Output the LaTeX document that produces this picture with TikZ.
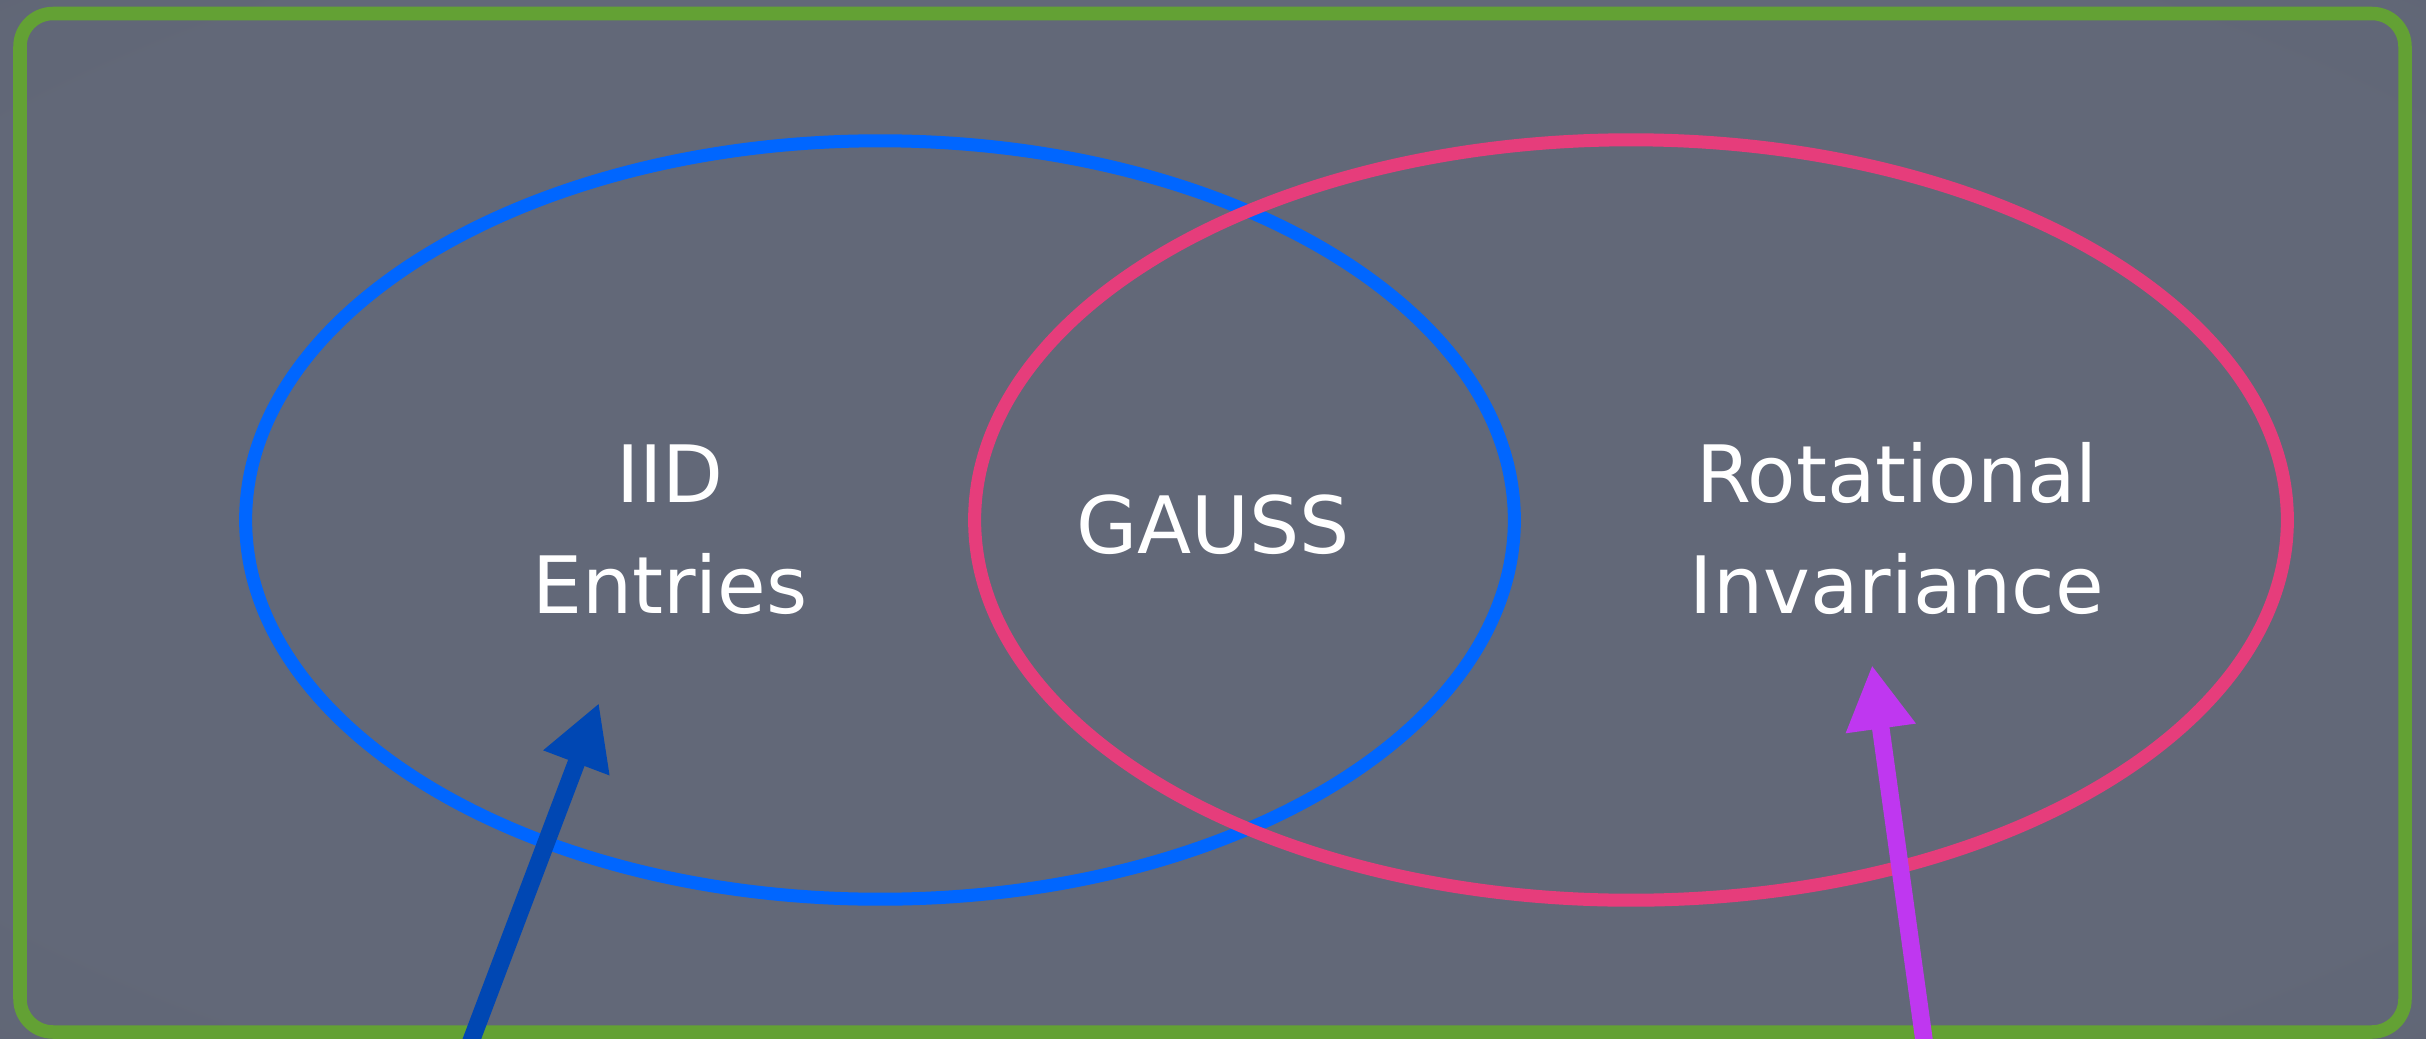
\documentclass[tikz,border=0pt]{standalone}
\usepackage{fontspec}
\setmainfont{DejaVu Sans}
\usetikzlibrary{arrows.meta,shapes.geometric}

\definecolor{boardmid}{HTML}{626878}
\definecolor{boardedge}{HTML}{4B505E}
\definecolor{framegreen}{HTML}{63A134}
\definecolor{setblue}{HTML}{0066FF}
\definecolor{setpink}{HTML}{E63D7B}
\definecolor{pointerblue}{HTML}{0047B3}
\definecolor{pointerviolet}{HTML}{BF37F0}

% soft chalkboard tone, darkening only towards the corners
\pgfdeclareradialshading{chalkboard}{\pgfpoint{0bp}{0bp}}{%
  color(0bp)=(boardmid); color(30bp)=(boardmid);
  color(50bp)=(boardmid!75!boardedge); color(71bp)=(boardedge)}

\begin{document}
\begin{tikzpicture}[x=0.01cm, y=-0.01cm,
  venn/.style={ellipse, draw, line width=0.13cm, inner sep=0pt, outer sep=0pt},
  chalk/.style={text=white, anchor=base, inner sep=0pt,
                font=\fontsize{22.5}{26}\selectfont},
  frame/.style={draw=framegreen, line width=0.135cm, rounded corners=0.33cm},
  pointer/.style={line width=0.175cm, -{Triangle[length=0.64cm, width=0.66cm]}}]

% chalkboard
\useasboundingbox (0,0) rectangle (2426,1039);
\shade[shading=chalkboard] (0,0) rectangle (2426,1039);

% outer frame
\draw[frame] (20,13.5) rectangle (2405,1032);

% the two sets
\node[venn, draw=setblue, minimum width=12.68cm, minimum height=7.58cm] (iidset) at (880,520) {};
\node[venn, draw=setpink, minimum width=13.12cm, minimum height=7.60cm] (rotset) at (1631,520) {};

% labels
\node[chalk] (iid) at (670,502) {IID};
\node[chalk] (entries) at (670,613) {Entries};
\node[chalk] (gauss) at (1213,553) {GAUSS};
\node[chalk] (rotational) at (1897,502) {Rotational};
\node[chalk] (invariance) at (1897,613) {Invariance};

% pointers entering from below
\coordinate (iidfoot) at (459,1073);
\coordinate (iidtip) at (599,703);
\coordinate (rotfoot) at (1929,1076);
\coordinate (rottip) at (1872,665);
\draw[pointer, draw=pointerblue, fill=pointerblue] (iidfoot) -- (iidtip);
\draw[pointer, draw=pointerviolet, fill=pointerviolet] (rotfoot) -- (rottip);
\end{tikzpicture}
\end{document}
